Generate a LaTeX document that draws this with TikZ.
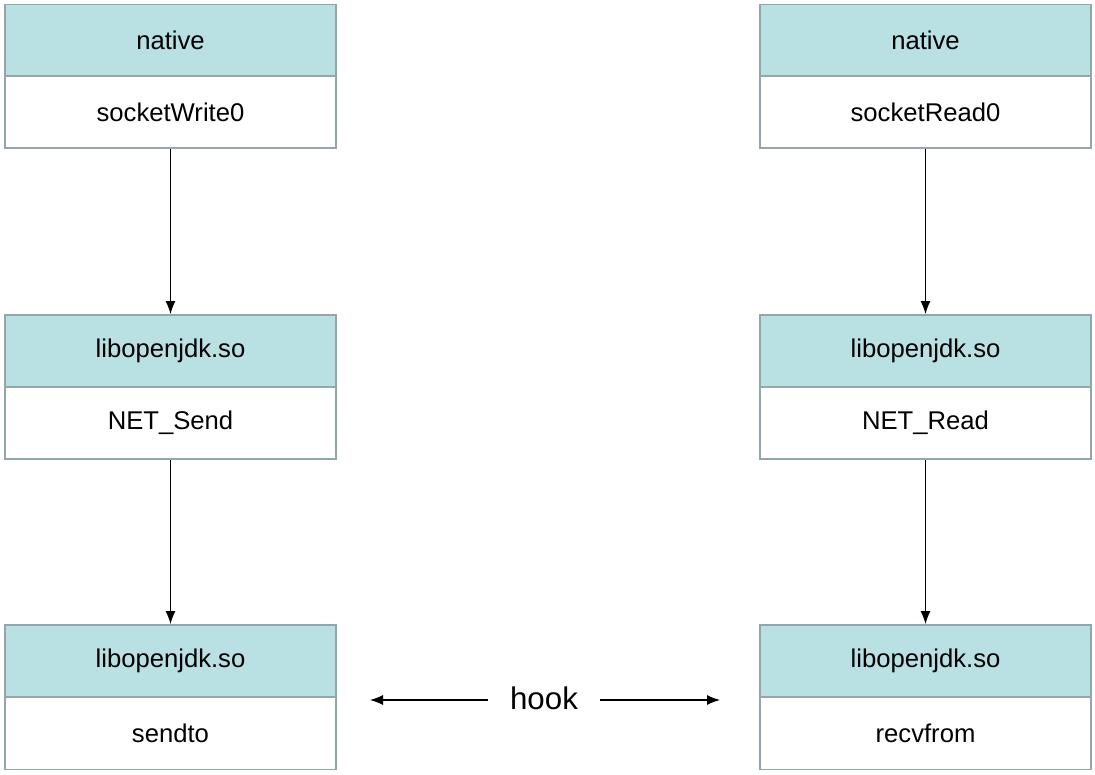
\documentclass[tikz,border=0pt]{standalone}
\usepackage{fontspec}
\setmainfont{Liberation Sans}
\usetikzlibrary{arrows.meta}
\definecolor{headfill}{HTML}{B9E0E3}
\definecolor{boxline}{HTML}{93A7AA}
\begin{document}
\begin{tikzpicture}[x=0.02cm, y=-0.02cm, >={Latex[length=0.26cm, width=0.2cm]},
  cell/.style={draw=boxline, line width=1.1pt, minimum width=6.62cm, minimum height=1.44cm,
    inner sep=0pt, font=\fontsize{14.6}{17}\selectfont},
  head/.style={cell, fill=headfill},
  body/.style={cell, fill=white}]
\useasboundingbox (0,0) rectangle (1095,774);
% send side
\node[head] (wh1) at (170.5,40.5) {native};
\node[body] (wb1) at (170.5,112) {socketWrite0};
\node[head] (wh2) at (170.5,351) {libopenjdk.so};
\node[body] (wb2) at (170.5,423) {NET\_Send};
\node[head] (wh3) at (170.5,661) {libopenjdk.so};
\node[body] (wb3) at (170.5,733.5) {sendto};
% read side
\node[head] (rh1) at (925.5,40.5) {native};
\node[body] (rb1) at (925.5,112) {socketRead0};
\node[head] (rh2) at (925.5,351) {libopenjdk.so};
\node[body] (rb2) at (925.5,423) {NET\_Read};
\node[head] (rh3) at (925.5,661) {libopenjdk.so};
\node[body] (rb3) at (925.5,733.5) {recvfrom};
\draw[->, line width=0.6pt] (wb1.south) -- (wh2.north);
\draw[->, line width=0.6pt] (wb2.south) -- (wh3.north);
\draw[->, line width=0.6pt] (rb1.south) -- (rh2.north);
\draw[->, line width=0.6pt] (rb2.south) -- (rh3.north);
% hook
\node[inner xsep=0.44cm, font=\fontsize{17.8}{20}\selectfont] (hook) at (544,698) {hook};
\coordinate (hl) at (370,700);
\coordinate (hr) at (720,700);
\draw[->, line width=0.6pt] (hook.west |- hl) -- (hl);
\draw[->, line width=0.6pt] (hook.east |- hr) -- (hr);
\end{tikzpicture}
\end{document}
